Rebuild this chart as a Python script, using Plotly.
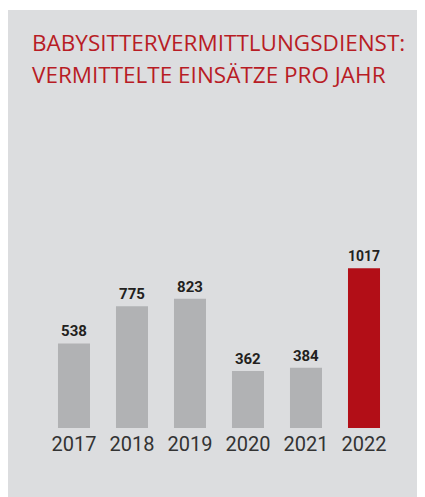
import plotly.graph_objects as go

years = ["2017", "2018", "2019", "2020", "2021", "2022"]
values = [538, 775, 823, 362, 384, 1017]
bar_colors = ["#b1b2b4", "#b1b2b4", "#b1b2b4", "#b1b2b4", "#b1b2b4", "#b20e17"]
title_lines = ["BABYSITTERVERMITTLUNGSDIENST:", "VERMITTELTE EINSÄTZE PRO JAHR"]

W, H = 425, 497
OFF = 8  # page body margin
L, R, T = 45 - OFF, 425 - (393 - OFF), 100 - OFF
B = 497 - (427.7 - OFF)
pw, ph = W - L - R, H - T - B

def px_x(x):
    return (x - OFF - L) / pw

def px_y(y):
    return (H - B - (y - OFF)) / ph

xs = list(range(len(years)))

fig = go.Figure(go.Bar(
    x=xs, y=values, width=0.552,
    marker=dict(color=bar_colors, line=dict(width=0)),
    text=[f"<b>{v}</b>" for v in values],
    textposition="outside", cliponaxis=False,
    textfont=dict(family="Roboto", size=15, color="#231f20"),
))

fig.add_shape(type="rect", xref="paper", yref="paper",
              x0=px_x(7), x1=px_x(460), y0=px_y(530), y1=px_y(10),
              fillcolor="#dcdddf", line=dict(width=0), layer="below")

for line, yc in zip(title_lines, [42.5, 74.7]):
    fig.add_annotation(text=line, xref="paper", yref="paper",
                       x=px_x(30), y=px_y(yc), xanchor="left", yanchor="middle",
                       showarrow=False,
                       font=dict(family="Open Sans", size=22.5, color="#b81c25"))

fig.update_layout(
    width=W, height=H,
    margin=dict(l=L, r=R, t=T, b=B, pad=0),
    paper_bgcolor="white", plot_bgcolor="rgba(0,0,0,0)",
    showlegend=False,
    xaxis=dict(range=[-0.5, len(years) - 0.5], tickvals=xs, ticktext=years,
               showgrid=False, zeroline=False, showline=False, ticks="",
               ticklabelstandoff=2,
               tickfont=dict(family="Roboto", size=20, color="#333333")),
    yaxis=dict(range=[0, 1017 * ph / 159.7], visible=False),
)

fig.write_html("out.html")
